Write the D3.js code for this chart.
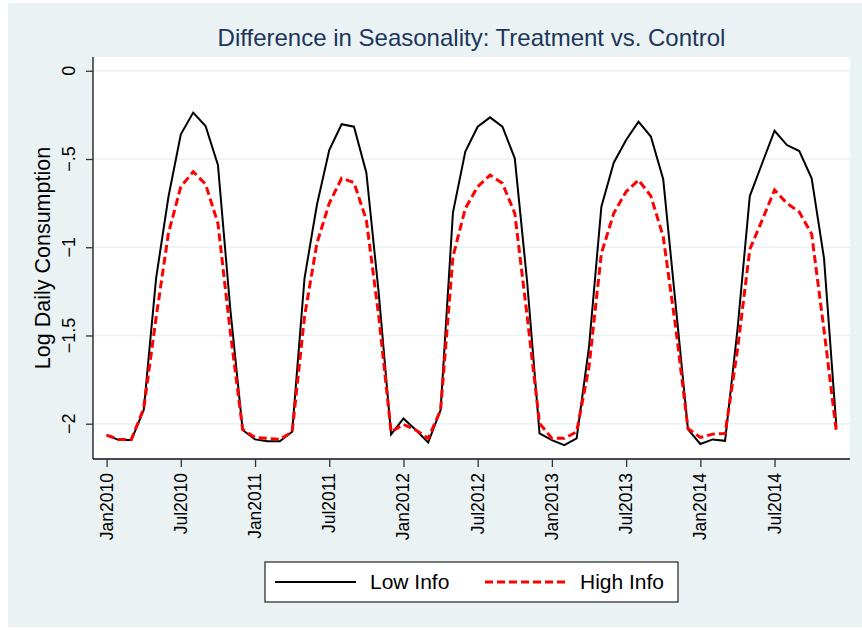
<!DOCTYPE html>
<html>
<head>
<meta charset="utf-8">
<script src="https://cdn.jsdelivr.net/npm/d3@7"></script>
<style>
    body { margin: 0; background: #ffffff; }
    text { font-family: "Liberation Sans", Arial, sans-serif; }
</style>
</head>
<body>
<div id="chart"></div>
<script>
// Monthly index 0 = Jan2010 ... 59 = Dec2014
const lowInfo = [
    -2.065, -2.093, -2.093, -1.923, -1.176, -0.714, -0.360, -0.237, -0.313, -0.534, -1.350, -2.036,
    -2.089, -2.099, -2.099, -2.046, -1.176, -0.761, -0.449, -0.303, -0.317, -0.578, -1.260, -2.061,
    -1.970, -2.036, -2.106, -1.923, -0.804, -0.458, -0.317, -0.264, -0.317, -0.496, -1.197, -2.055,
    -2.093, -2.121, -2.083, -1.564, -0.770, -0.521, -0.392, -0.288, -0.373, -0.615, -1.322, -2.032,
    -2.115, -2.089, -2.097, -1.469, -0.710, -0.524, -0.340, -0.421, -0.455, -0.609, -1.063, -2.017
];
const highInfo = [
    -2.065, -2.089, -2.089, -1.914, -1.400, -0.920, -0.657, -0.572, -0.643, -0.865, -1.480, -2.032,
    -2.078, -2.083, -2.089, -2.046, -1.394, -0.978, -0.751, -0.609, -0.634, -0.846, -1.390, -2.046,
    -2.004, -2.036, -2.083, -1.923, -1.054, -0.780, -0.657, -0.591, -0.638, -0.808, -1.392, -1.998,
    -2.083, -2.083, -2.046, -1.677, -1.035, -0.808, -0.685, -0.619, -0.710, -0.940, -1.450, -2.027,
    -2.078, -2.059, -2.055, -1.583, -1.012, -0.846, -0.676, -0.751, -0.800, -0.925, -1.470, -2.046
];

const xTickMonths = [0, 6, 12, 18, 24, 30, 36, 42, 48, 54];
const xTickLabels = ['Jan2010', 'Jul2010', 'Jan2011', 'Jul2011', 'Jan2012', 'Jul2012',
    'Jan2013', 'Jul2013', 'Jan2014', 'Jul2014'];
const yTicks = [-2, -1.5, -1, -0.5, 0];
const yTickLabels = ['\u22122', '\u22121.5', '\u22121', '\u2212.5', '0'];

const seriesNames = ['Low Info', 'High Info'];

const width = 862;
const height = 630;
const bg = '#eaf2f3';

const svg = d3.select('#chart')
    .append('svg')
    .attr('width', width)
    .attr('height', height);

// outer graph region (Stata style)
svg.append('rect')
    .attr('x', 8).attr('y', 3)
    .attr('width', width - 8).attr('height', 624)
    .attr('fill', bg);

const plot = { left: 93, right: 850, top: 57, bottom: 459 };

const x = d3.scaleLinear()
    .domain([-1.1, 60.1])
    .range([plot.left, plot.right]);

const y = d3.scaleLinear()
    .domain([-2.2, 0.078])
    .range([plot.bottom, plot.top]);

// plot region
svg.append('rect')
    .attr('x', plot.left).attr('y', plot.top)
    .attr('width', plot.right - plot.left)
    .attr('height', plot.bottom - plot.top)
    .attr('fill', '#ffffff');

// gridlines
svg.selectAll('line.grid')
    .data(yTicks)
    .enter()
    .append('line')
    .attr('class', 'grid')
    .attr('x1', plot.left).attr('x2', plot.right)
    .attr('y1', d => y(d)).attr('y2', d => y(d))
    .attr('stroke', bg)
    .attr('stroke-width', 1.6);

// y axis
const yAxis = svg.append('g')
    .attr('transform', `translate(${plot.left},0)`)
    .call(d3.axisLeft(y).tickValues(yTicks).tickSize(7).tickFormat(''));
yAxis.select('.domain').attr('d', `M0,${plot.top}V${plot.bottom}`).attr('stroke', '#111').attr('stroke-width', 1.3);
yAxis.selectAll('.tick line').attr('stroke', '#333').attr('stroke-width', 1.3);

svg.selectAll('text.ytick')
    .data(yTicks)
    .enter()
    .append('text')
    .attr('class', 'ytick')
    .attr('transform', d => `translate(75,${y(d)}) rotate(-90)`)
    .attr('text-anchor', 'middle')
    .attr('font-size', 18)
    .attr('fill', '#000')
    .text((d, i) => yTickLabels[i]);

// x axis
const xAxis = svg.append('g')
    .attr('transform', `translate(0,${plot.bottom})`)
    .call(d3.axisBottom(x).tickValues(xTickMonths).tickSize(8).tickFormat(''));
xAxis.select('.domain').attr('d', `M${plot.left},0H${plot.right}`).attr('stroke', '#111').attr('stroke-width', 1.3);
xAxis.selectAll('.tick line').attr('stroke', '#333').attr('stroke-width', 1.3);

svg.selectAll('text.xtick')
    .data(xTickMonths)
    .enter()
    .append('text')
    .attr('class', 'xtick')
    .attr('transform', d => `translate(${x(d) + 6},473) rotate(-90)`)
    .attr('text-anchor', 'end')
    .attr('font-size', 17.5)
    .attr('fill', '#000')
    .text((d, i) => xTickLabels[i]);

// lines
const line = d3.line()
    .x((d, i) => x(i))
    .y(d => y(d));

svg.append('path')
    .datum(lowInfo)
    .attr('d', line)
    .attr('fill', 'none')
    .attr('stroke', '#000')
    .attr('stroke-width', 2)
    .attr('stroke-linejoin', 'miter');

svg.append('path')
    .datum(highInfo)
    .attr('d', line)
    .attr('fill', 'none')
    .attr('stroke', '#ff0000')
    .attr('stroke-width', 3)
    .attr('stroke-dasharray', '8,4');

// titles
svg.append('text')
    .attr('x', (plot.left + plot.right) / 2)
    .attr('y', 46)
    .attr('text-anchor', 'middle')
    .attr('font-size', 24)
    .attr('fill', '#1c365c')
    .text('Difference in Seasonality: Treatment vs. Control');

svg.append('text')
    .attr('transform', `translate(50,${(plot.top + plot.bottom) / 2}) rotate(-90)`)
    .attr('text-anchor', 'middle')
    .attr('font-size', 21.5)
    .attr('fill', '#000')
    .text('Log Daily Consumption');

// legend
const legend = svg.append('g');
legend.append('rect')
    .attr('x', 265).attr('y', 562)
    .attr('width', 413).attr('height', 40)
    .attr('fill', '#fff')
    .attr('stroke', '#222')
    .attr('stroke-width', 1.2);

legend.append('line')
    .attr('x1', 275).attr('x2', 356)
    .attr('y1', 582).attr('y2', 582)
    .attr('stroke', '#000').attr('stroke-width', 2);
legend.append('line')
    .attr('x1', 485).attr('x2', 566)
    .attr('y1', 582).attr('y2', 582)
    .attr('stroke', '#ff0000').attr('stroke-width', 3)
    .attr('stroke-dasharray', '8,4');

legend.selectAll('text')
    .data(seriesNames)
    .enter()
    .append('text')
    .attr('x', (d, i) => i === 0 ? 370 : 580)
    .attr('y', 589)
    .attr('font-size', 21)
    .attr('fill', '#000')
    .text(d => d);
</script>
</body>
</html>
